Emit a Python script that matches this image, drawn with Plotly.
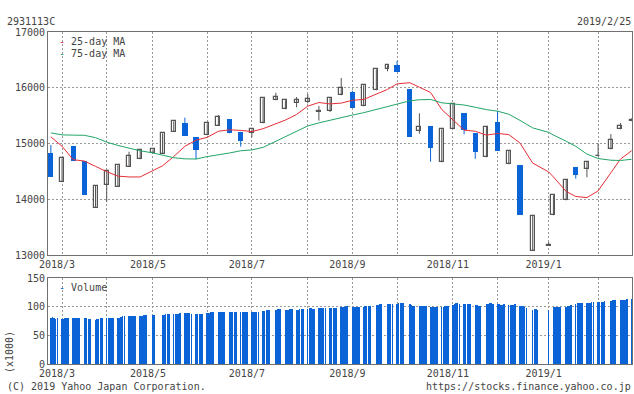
import pandas as pd
import plotly.graph_objects as go

# ---------------- data ----------------
dates = ["2018-02-26", "2018-03-05", "2018-03-12", "2018-03-19", "2018-03-26", "2018-04-02",
         "2018-04-09", "2018-04-16", "2018-04-23", "2018-05-01", "2018-05-07", "2018-05-14",
         "2018-05-21", "2018-05-28", "2018-06-04", "2018-06-11", "2018-06-18", "2018-06-25",
         "2018-07-02", "2018-07-09", "2018-07-17", "2018-07-23", "2018-07-30", "2018-08-06",
         "2018-08-13", "2018-08-20", "2018-08-27", "2018-09-03", "2018-09-10", "2018-09-18",
         "2018-09-25", "2018-10-01", "2018-10-09", "2018-10-15", "2018-10-22", "2018-10-29",
         "2018-11-05", "2018-11-12", "2018-11-19", "2018-11-26", "2018-12-03", "2018-12-10",
         "2018-12-17", "2018-12-25", "2019-01-04", "2019-01-07", "2019-01-15", "2019-01-21",
         "2019-01-28", "2019-02-04", "2019-02-12", "2019-02-18", "2019-02-25"]

opens = [14824, 14304, 14955, 14686, 13848, 14250, 14225, 14584, 14717, 14824, 14817, 15206,
         15373, 15117, 15147, 15314, 15434, 15212, 15183, 15362, 15775, 15614, 15721, 15750,
         15562, 15588, 15865, 15924, 15667, 15954, 16337, 16408, 15972, 15230, 15314, 14663,
         15255, 15547, 15188, 14752, 15386, 14627, 14614, 13077, 13170, 13712, 13981, 14578,
         14537, 14768, 14896, 15255, 15400]
highs = [14973, 14735, 14955, 14686, 14238, 14501, 14611, 14853, 14878, 14896, 15183, 15398,
         15463, 15117, 15362, 15511, 15434, 15212, 15255, 15811, 15911, 15775, 15834, 15888,
         15673, 15811, 16175, 15947, 16044, 16331, 16403, 16480, 15972, 15542, 15314, 15255,
         15709, 15547, 15188, 15314, 15583, 14865, 14614, 13699, 13230, 14071, 14345, 14578,
         14668, 15004, 15170, 15368, 15450]
lows = [14400, 14304, 14686, 14076, 13848, 13955, 14225, 14584, 14717, 14824, 14817, 15206,
        15140, 14717, 15147, 15314, 15183, 14943, 15111, 15362, 15775, 15614, 15650, 15721,
        15409, 15565, 15865, 15642, 15667, 15954, 16295, 16288, 15122, 15176, 14673, 14663,
        15255, 15165, 14727, 14752, 14871, 14627, 13723, 13077, 13170, 13712, 13981, 14369,
        14394, 14768, 14896, 15255, 15400]
closes = [14404, 14735, 14686, 14076, 14238, 14501, 14611, 14770, 14878, 14896, 15183, 15398,
          15140, 14889, 15362, 15481, 15183, 15050, 15255, 15811, 15829, 15775, 15775, 15793,
          15578, 15811, 15990, 15642, 16044, 16331, 16403, 16288, 15122, 15291, 14925, 15255,
          15709, 15248, 14853, 15291, 14871, 14865, 13723, 13699, 13185, 14071, 14345, 14440,
          14668, 14782, 15057, 15319, 15425]

ma25 = [15120, 14950, 14710, 14685, 14590, 14495, 14415, 14400, 14400, 14520, 14600, 14765,
        14950, 15060, 15110, 15220, 15245, 15235, 15215, 15265, 15350, 15420, 15520, 15670,
        15735, 15710, 15725, 15775, 15790, 15880, 15970, 16070, 16090, 16010, 15915, 15610,
        15420, 15240, 15220, 15150, 15180, 15160, 15010, 14650, 14490, 14400, 14140, 14050,
        14030, 14150, 14475, 14720, 14870]
ma75 = [15190, 15155, 15150, 15147, 15105, 15025, 14965, 14915, 14870, 14830, 14785, 14745,
        14725, 14722, 14765, 14795, 14830, 14870, 14885, 14930, 15040, 15125, 15230, 15315,
        15370, 15420, 15465, 15510, 15552, 15612, 15660, 15715, 15765, 15785, 15790, 15730,
        15712, 15690, 15650, 15608, 15580, 15525, 15415, 15280, 15200, 15152, 15040, 14950,
        14810, 14730, 14700, 14695, 14717]

# daily volume (x1000 shares), grouped by week
weekly_volume = [
    [81, 82, 81, 79, 80], [78, 79, 80, 80, 81], [81, 81, 81, 81, 81], [80, 80, 79, 79],
    [77, 79, 79, 80, 80], [80, 80, 80, 81, 80], [80, 81, 82, 83, 83], [83, 83, 84, 83, 84],
    [84, 84, 85, 85, 85], [85, 85], [85, 86, 87, 87, 87], [88, 88, 88, 88, 89],
    [89, 89, 89, 89, 88], [88, 87, 88, 88, 88], [89, 89, 90, 91, 91], [91, 91, 91, 91, 91],
    [91, 91, 91, 91, 90], [90, 90, 90, 90, 90], [91, 91, 91, 91, 91], [92, 93, 94, 94, 95],
    [95, 96, 96, 96], [95, 95, 95, 96, 96], [95, 95, 96, 96, 96], [96, 97, 97, 96, 96],
    [97, 97, 98, 98, 98], [98, 98, 98, 98, 98], [99, 99, 100, 101, 101], [100, 100, 100, 100, 100],
    [100, 101, 101, 101, 101], [103, 103, 104, 104], [104, 105, 105, 105], [105, 106, 106, 106, 106],
    [104, 103, 102, 102], [101, 102, 102, 101, 102], [100, 100, 99, 99, 100], [99, 100, 101, 102, 102],
    [103, 105, 106, 106, 105], [105, 105, 104, 104, 104], [103, 103, 102, 102], [104, 105, 106, 106, 105],
    [104, 104, 103, 103, 104], [103, 103, 103, 103, 104], [102, 101, 101, 99, 98], [95, 96, 96, 95],
    [95], [99, 100, 100, 100, 100], [100, 101, 102, 103], [105, 106, 106, 107, 107],
    [106, 107, 107, 108, 108], [108, 109, 109, 109, 110], [110, 111, 111, 111], [112, 112, 112, 112, 113],
    [114],
]

holidays = ["2018-03-21", "2018-04-30", "2018-05-03", "2018-05-04", "2018-07-16", "2018-09-17",
            "2018-09-24", "2018-10-08", "2018-11-23", "2018-12-24", "2018-12-31", "2019-01-01",
            "2019-01-02", "2019-01-03", "2019-01-14", "2019-02-11"]

month_ticks = ["2018-03-05", "2018-04-02", "2018-05-01", "2018-06-04", "2018-07-02", "2018-08-06",
               "2018-09-03", "2018-10-01", "2018-11-05", "2018-12-03", "2019-01-04", "2019-02-04"]
month_labels = ["2018/3", "", "2018/5", "", "2018/7", "", "2018/9", "", "2018/11", "", "2019/1", ""]

price_ticks = [13000, 14000, 15000, 16000, 17000]
price_labels = ["13000", "14000", "15000", "16000", "17000"]
volume_ticks = [0, 50, 100, 150]
volume_labels = ["0", "50", "100", "150"]

# ---------------- styles ----------------
BLUE = "#0a64d8"
GRAY = "#555555"
RED = "#e62e36"
GREEN = "#22a566"
FONT = "DejaVu Sans Mono"
TXT = "#444444"
DAY = 86400000

d = pd.to_datetime(dates)
tdays = pd.bdate_range("2018-02-26", "2019-02-25")
tdays = tdays[~tdays.isin(pd.to_datetime(holidays))]
vol_x, vol_y = [], []
for k, dt in enumerate(d):
    monday = dt - pd.Timedelta(days=dt.weekday())
    wk = tdays[(tdays >= monday) & (tdays < monday + pd.Timedelta(days=7))]
    for day, v in zip(wk, weekly_volume[k]):
        vol_x.append(day)
        vol_y.append(v)

inc = [c >= o for o, c in zip(opens, closes)]

def pick(seq, flag):
    return [s for s, f in zip(seq, inc) if f == flag]

def wick_xy(flag):
    xs, ys = [], []
    for dt, lo, hi, f in zip(d, lows, highs, inc):
        if f == flag:
            xs += [dt, dt, None]
            ys += [lo, hi, None]
    return xs, ys

fig = go.Figure()

for flag, col in [(True, GRAY), (False, BLUE)]:
    wx, wy = wick_xy(flag)
    fig.add_trace(go.Scatter(x=wx, y=wy, mode="lines", line=dict(color=col, width=1),
                             hoverinfo="skip", xaxis="x", yaxis="y"))

# bodies
o_i, c_i = pick(opens, True), pick(closes, True)
fig.add_trace(go.Bar(x=pick(list(d), True), base=[min(a, b) for a, b in zip(o_i, c_i)],
                     y=[max(abs(b - a), 12) for a, b in zip(o_i, c_i)],
                     width=2.5 * DAY, marker=dict(color="white", line=dict(color=GRAY, width=1.2)),
                     xaxis="x", yaxis="y"))
o_d, c_d = pick(opens, False), pick(closes, False)
fig.add_trace(go.Bar(x=pick(list(d), False), base=[min(a, b) for a, b in zip(o_d, c_d)],
                     y=[abs(b - a) for a, b in zip(o_d, c_d)],
                     width=3.3 * DAY, marker=dict(color=BLUE, line=dict(width=0)),
                     xaxis="x", yaxis="y"))

fig.add_trace(go.Scatter(x=d, y=ma25, mode="lines", line=dict(color=RED, width=1), xaxis="x", yaxis="y"))
fig.add_trace(go.Scatter(x=d, y=ma75, mode="lines", line=dict(color=GREEN, width=1), xaxis="x", yaxis="y"))

fig.add_trace(go.Bar(x=vol_x, y=vol_y, width=0.3 * DAY, marker=dict(color=BLUE, line=dict(width=0)),
                     xaxis="x2", yaxis="y2"))

xrange = ["2018-02-24 05:00", "2019-02-25 06:00"]
grid = dict(showgrid=True, gridcolor="#999999", griddash="2px,2px", gridwidth=1)
frame = dict(showline=True, linecolor="#707070", linewidth=1, mirror=True, zeroline=False)
tickfont = dict(family=FONT, size=10, color=TXT)

fig.update_layout(
    width=634, height=394,
    margin=dict(l=48, r=2, t=32, b=30),
    paper_bgcolor="white", plot_bgcolor="white",
    showlegend=False, barmode="overlay", bargap=0,
    font=dict(family=FONT, size=10, color=TXT),
    xaxis=dict(type="date", range=xrange, domain=[0, 1], anchor="y",
               tickmode="array", tickvals=month_ticks, ticktext=month_labels,
               ticklabelshift=-5, tickfont=tickfont, ticks="", **grid, **frame),
    yaxis=dict(range=[13000, 17000], domain=[0.3283, 1], anchor="x",
               tickmode="array", tickvals=price_ticks, ticktext=price_labels,
               tickfont=tickfont, ticks="", **grid, **frame),
    xaxis2=dict(type="date", range=xrange, domain=[0, 1], anchor="y2", matches="x",
                tickmode="array", tickvals=month_ticks, ticktext=month_labels,
                ticklabelshift=-5, tickfont=tickfont, ticks="", **grid, **frame),
    yaxis2=dict(range=[0, 150], domain=[0, 0.259], anchor="x2",
                tickmode="array", tickvals=volume_ticks, ticktext=volume_labels,
                tickfont=tickfont, ticks="", **grid, **frame),
)

W, H, L, T, B = 634, 394, 48, 32, 30
PW, PH = W - L - 2, H - T - B

def px(x, y):
    return (x - L) / PW, (H - B - y) / PH

def note(text, x, y, anchor="left", angle=0):
    ax, ay = px(x, y)
    fig.add_annotation(text=text, x=ax, y=ay, xref="paper", yref="paper", xanchor=anchor,
                       yanchor="middle", showarrow=False, textangle=angle,
                       font=dict(family=FONT, size=10, color=TXT), borderpad=0)

note("2931113C", 6, 21)
note("2019/2/25", 632, 21, anchor="right")
note(f"<span style='color:{RED}'>-</span> 25-day MA", 58, 41)
note(f"<span style='color:{GREEN}'>-</span> 75-day MA", 58, 53)
note(f"<span style='color:{BLUE}'>-</span> Volume", 58, 287)
note("(C) 2019 Yahoo Japan Corporation.", 6, 386)
note("https://stocks.finance.yahoo.co.jp", 632, 386, anchor="right")
note("(x1000)", 9, 352, anchor="center", angle=-90)

fig.write_html("out.html", config={"displayModeBar": False},
               post_script="document.body.style.margin='0';document.body.style.overflow='hidden';")
